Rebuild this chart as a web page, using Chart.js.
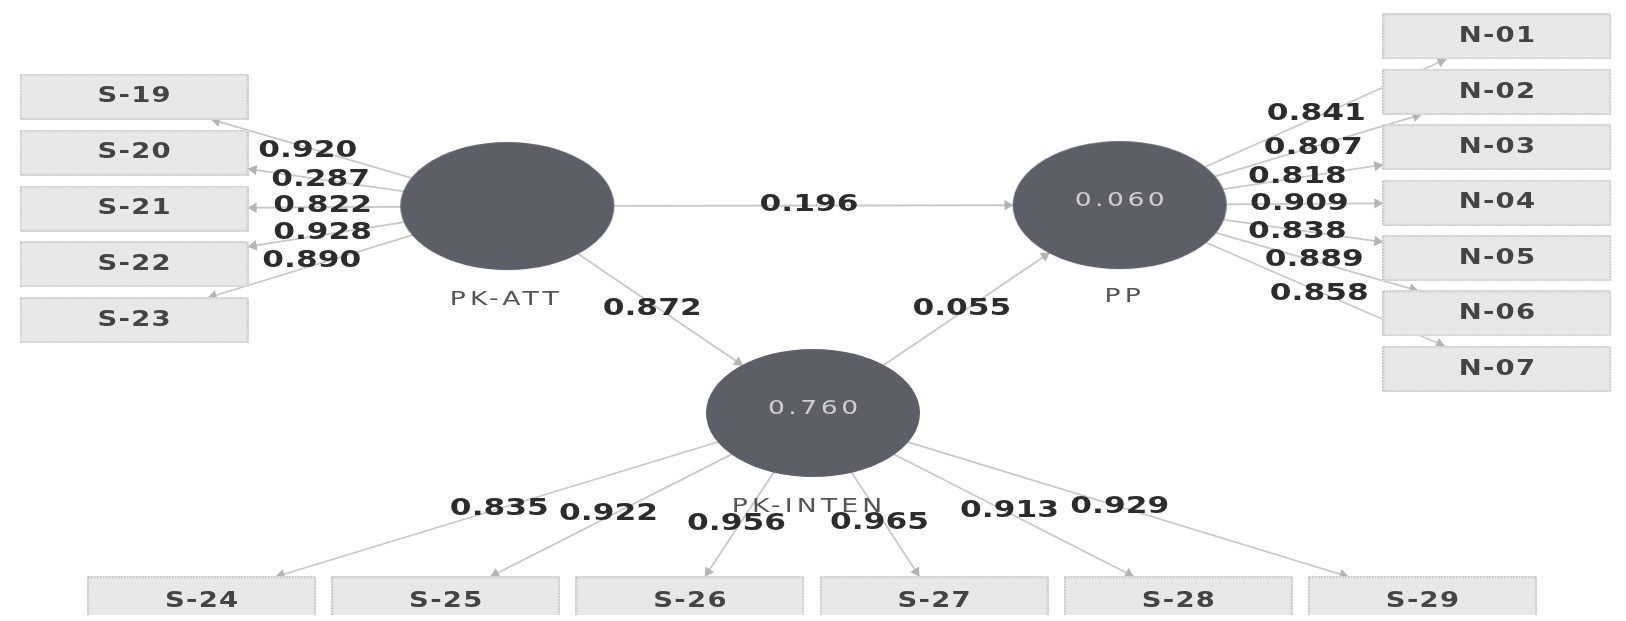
<!DOCTYPE html>
<html>
<head>
<meta charset="utf-8">
<script src="https://cdn.jsdelivr.net/npm/chart.js@4.4.1/dist/chart.umd.min.js"></script>
<style>
  html, body { margin: 0; padding: 0; background: #fff; }
  #wrap { width: 1626px; height: 621px; }
</style>
</head>
<body>
<div id="wrap"><canvas id="graph-container"></canvas></div>
<script>
// Model values
const constructs = ['PK-ATT', 'PP', 'PK-INTEN'];
const rSquared = [null, 0.060, 0.760];

const pathFrom = ['PK-ATT', 'PK-ATT', 'PK-INTEN'];
const pathTo = ['PP', 'PK-INTEN', 'PP'];
const pathCoefs = [0.196, 0.872, 0.055];

const attItems = ['S-19', 'S-20', 'S-21', 'S-22', 'S-23'];
const attLoadings = [0.920, 0.287, 0.822, 0.928, 0.890];

const ppItems = ['N-01', 'N-02', 'N-03', 'N-04', 'N-05', 'N-06', 'N-07'];
const ppLoadings = [0.841, 0.807, 0.818, 0.909, 0.838, 0.889, 0.858];

const intenItems = ['S-24', 'S-25', 'S-26', 'S-27', 'S-28', 'S-29'];
const intenLoadings = [0.835, 0.922, 0.956, 0.965, 0.913, 0.929];

// Layout (diagram units = pixels of the 1626x621 canvas)
const W = 1626, H = 621;
const RX = 107, RY = 64;
const BOX_W = 229, BOX_H = 46;
const ARROW_R = 6;

const constructPos = { 'PK-ATT': [505, 204], 'PP': [1122, 203], 'PK-INTEN': [813, 415] };
const constructLabelPos = { 'PK-ATT': [502, 300], 'PP': [1125, 297], 'PK-INTEN': [807, 511] };
const attLabelPos = [[304, 148], [317, 177], [319, 204], [319, 232], [308, 260]];
const ppLabelPos = [[1320, 110], [1317, 145], [1301, 174], [1303, 202], [1301, 230], [1318, 259], [1323, 294]];
const intenLabelPos = [[497, 513], [607, 518], [736, 528], [880, 527], [1011, 515], [1122, 511]];
const pathLabelPos = [[809, 203], [651, 309], [963, 309]];

const attBoxPos = attItems.map((_, i) => [129, 92.5 + 57 * i]);
const ppBoxPos = ppItems.map((_, i) => [1502, 31 + 56.5 * i]);
const intenBoxPos = intenItems.map((_, i) => [197 + 246 * i, 605]);

// point on the outline of a shape, going from its centre towards another point
const clipTo = (c, toward, shape) => {
  const dx = toward[0] - c[0], dy = toward[1] - c[1];
  let t;
  if (shape === 'ellipse') {
    t = 1 / Math.sqrt((dx / RX) ** 2 + (dy / RY) ** 2);
  } else {
    t = Math.min((BOX_W / 2) / Math.abs(dx || 1e-9), (BOX_H / 2) / Math.abs(dy || 1e-9));
  }
  return [c[0] + t * dx, c[1] + t * dy];
};

const edges = [];
const addEdge = (a, aShape, b, bShape) => {
  const start = clipTo(a, b, aShape);
  const end = clipTo(b, a, bShape);
  edges.push({ start, end });
};

pathFrom.forEach((f, i) => addEdge(constructPos[f], 'ellipse', constructPos[pathTo[i]], 'ellipse'));
attBoxPos.forEach(p => addEdge(constructPos['PK-ATT'], 'ellipse', p, 'box'));
ppBoxPos.forEach(p => addEdge(constructPos['PP'], 'ellipse', p, 'box'));
intenBoxPos.forEach(p => addEdge(constructPos['PK-INTEN'], 'ellipse', p, 'box'));

// arrow heads sit just inside the end of each edge
const arrowPoints = [];
const arrowRotations = [];
edges.forEach(({ start, end }) => {
  const dx = end[0] - start[0], dy = end[1] - start[1];
  const len = Math.hypot(dx, dy);
  const ux = dx / len, uy = dy / len;
  arrowPoints.push({ x: end[0] - ux * ARROW_R, y: end[1] - uy * ARROW_R });
  arrowRotations.push(Math.atan2(ux, -uy) * 180 / Math.PI);
});

// sprites used as point styles
const boxImage = (() => {
  const c = document.createElement('canvas');
  c.width = BOX_W; c.height = BOX_H;
  const g = c.getContext('2d');
  g.fillStyle = '#e8e8e8';
  g.fillRect(0, 0, BOX_W, BOX_H);
  g.strokeStyle = '#a8a8a8';
  g.lineWidth = 1.2;
  g.setLineDash([1.5, 1.5]);
  g.strokeRect(1, 1, BOX_W - 2, BOX_H - 2);
  return c;
})();

const ellipseImage = (() => {
  const c = document.createElement('canvas');
  c.width = RX * 2 + 2; c.height = RY * 2 + 2;
  const g = c.getContext('2d');
  g.fillStyle = '#5d5f68';
  g.beginPath();
  g.ellipse(RX + 1, RY + 1, RX, RY, 0, 0, Math.PI * 2);
  g.fill();
  return c;
})();

const toXY = ([x, y]) => ({ x, y });

const datasets = [];
edges.forEach(({ start, end }) => {
  datasets.push({
    data: [toXY(start), toXY(end)],
    showLine: true,
    borderColor: '#c8c8c8',
    borderWidth: 1.8,
    pointRadius: 0,
    order: 3
  });
});
datasets.push({
  data: arrowPoints,
  pointStyle: 'triangle',
  pointRadius: ARROW_R,
  pointRotation: arrowRotations,
  pointBackgroundColor: '#b4b4b4',
  pointBorderWidth: 0,
  order: 2
});
datasets.push({
  data: [...attBoxPos, ...ppBoxPos, ...intenBoxPos].map(toXY),
  pointStyle: boxImage,
  pointRadius: 1,
  order: 1
});
datasets.push({
  data: constructs.map(c => toXY(constructPos[c])),
  pointStyle: ellipseImage,
  pointRadius: 1,
  order: 0
});

// all the texts of the diagram
const texts = [];
const fmt = v => v.toFixed(3);
attItems.forEach((t, i) => texts.push({ text: t, pos: attBoxPos[i], kind: 'item' }));
ppItems.forEach((t, i) => texts.push({ text: t, pos: ppBoxPos[i], kind: 'item' }));
intenItems.forEach((t, i) => texts.push({ text: t, pos: [intenBoxPos[i][0], intenBoxPos[i][1] + 2], kind: 'item' }));
attLoadings.forEach((v, i) => texts.push({ text: fmt(v), pos: attLabelPos[i], kind: 'coef' }));
ppLoadings.forEach((v, i) => texts.push({ text: fmt(v), pos: ppLabelPos[i], kind: 'coef' }));
intenLoadings.forEach((v, i) => texts.push({ text: fmt(v), pos: intenLabelPos[i], kind: 'coef' }));
pathCoefs.forEach((v, i) => texts.push({ text: fmt(v), pos: pathLabelPos[i], kind: 'coef' }));
constructs.forEach((c, i) => {
  texts.push({ text: c, pos: constructLabelPos[c], kind: 'name' });
  if (rSquared[i] !== null) {
    const p = constructPos[c];
    texts.push({ text: fmt(rSquared[i]), pos: [p[0], p[1] - 4], kind: 'r2' });
  }
});

const textStyles = {
  item: { font: 'bold 22px "DejaVu Sans"', color: '#444444', sx: 1.25, spacing: 1 },
  coef: { font: 'bold 23px "DejaVu Sans"', color: '#2c2c2c', sx: 1.36, spacing: 0 },
  name: { font: '19px "DejaVu Sans"', color: '#555555', sx: 1.4, spacing: 3 },
  r2: { font: '19px "DejaVu Sans"', color: '#cfcfcf', sx: 1.4, spacing: 2.5 }
};

const diagramText = {
  id: 'diagramText',
  beforeDraw(chart) {
    const { ctx } = chart;
    ctx.save();
    ctx.fillStyle = '#fff';
    ctx.fillRect(0, 0, chart.width, chart.height);
    ctx.restore();
  },
  afterDatasetsDraw(chart) {
    const { ctx, scales: { x, y } } = chart;
    texts.forEach(({ text, pos, kind }) => {
      const st = textStyles[kind];
      ctx.save();
      ctx.translate(x.getPixelForValue(pos[0]), y.getPixelForValue(pos[1]));
      ctx.scale(st.sx, 1);
      ctx.font = st.font;
      ctx.letterSpacing = st.spacing + 'px';
      ctx.fillStyle = st.color;
      ctx.textAlign = 'center';
      ctx.textBaseline = 'middle';
      ctx.fillText(text, st.spacing / 2, 0);
      ctx.restore();
    });
  }
};

new Chart(document.getElementById('graph-container'), {
  type: 'scatter',
  data: { datasets },
  options: {
    responsive: true,
    maintainAspectRatio: false,
    animation: false,
    events: [],
    layout: { padding: 0 },
    plugins: { legend: { display: false }, tooltip: { enabled: false } },
    scales: {
      x: { type: 'linear', min: 0, max: W, display: false },
      y: { type: 'linear', min: 0, max: H, reverse: true, display: false }
    }
  },
  plugins: [diagramText]
});
</script>
</body>
</html>
